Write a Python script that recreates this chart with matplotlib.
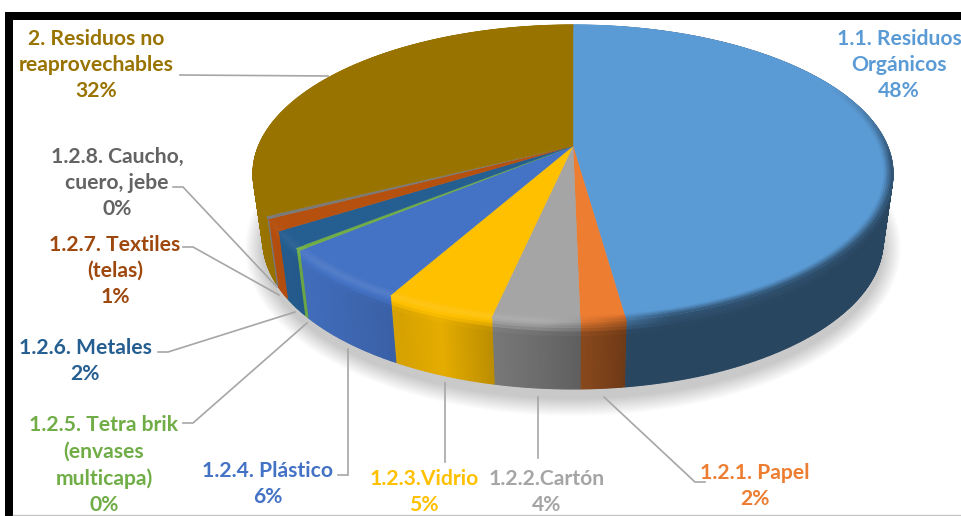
import numpy as np
import matplotlib
matplotlib.use("Agg")
import matplotlib.pyplot as plt
from matplotlib.collections import PolyCollection
from matplotlib.colors import to_rgb
from matplotlib.patches import Ellipse, Rectangle

plt.rcParams["font.family"] = ["Lato", "DejaVu Sans"]

# waste fractions, clockwise from twelve o'clock
categories = [
    "1.1. Residuos\nOrgánicos",
    "1.2.1. Papel",
    "1.2.2.Cartón",
    "1.2.3.Vidrio",
    "1.2.4. Plástico",
    "1.2.5. Tetra brik\n(envases\nmulticapa)",
    "1.2.6. Metales",
    "1.2.7. Textiles\n(telas)",
    "1.2.8. Caucho,\ncuero, jebe",
    "2. Residuos no\nreaprovechables",
]
values = [47.8, 1.9, 3.7, 4.7, 5.8, 0.3, 1.8, 1.3, 0.3, 32.4]
slice_colors = ["#5b9bd5", "#ed7d31", "#a5a5a5", "#ffc000", "#4472c4",
                "#70ad47", "#255e91", "#b5500f", "#7a7a7a", "#997300"]
label_colors = ["#5b9bd5", "#ed7d31", "#a5a5a5", "#ffc000", "#4472c4",
                "#70ad47", "#255e91", "#9e480e", "#636363", "#997300"]

# label centre (x, y of the block) in pixels
label_pos = [(899, 65), (755, 486), (547, 492), (424, 492), (268, 484),
             (104, 465), (85, 361), (115, 271), (117, 183), (96, 65)]

# leader lines in pixels
leaders = [
    None,
    [(705, 482), (695, 482), (604, 397)],
    [(538, 458), (538, 397)],
    [(445, 462), (445, 383)],
    [(338, 475), (348, 475), (348, 349)],
    [(183, 423), (193, 423), (307, 323)],
    [(158, 352), (168, 352), (295, 312)],
    [(183, 247), (193, 247), (279, 295)],
    [(173, 187), (183, 187), (277, 287)],
    [(180, 75), (328, 76)],
]

# tilted pie geometry
CX, CY = 573, 146
A, B, K = 314.5, 143.4, 0.185
BOTTOM_SCALE, DEPTH = 0.969, 67


def top_xy(theta, r=1.0):
    u, v = r * np.sin(theta), r * np.cos(theta)
    d = 1 + K * v
    return CX + A * u / d, CY - B * v / d


def bottom_xy(theta):
    x, y = top_xy(theta)
    return CX + (x - CX) * BOTTOM_SCALE, y + DEPTH


def shade(color, f):
    c = np.array(to_rgb(color))
    if f <= 1:
        return tuple(c * f)
    return tuple(c + (1 - c) * (f - 1))


def wall_factor(t):
    return np.interp(t, [-1.0, -0.85, -0.55, -0.42, -0.24, -0.12, 0.05, 0.18, 1.0],
                     [1.0, 0.95, 0.84, 0.9, 0.72, 0.66, 0.56, 0.45, 0.45])


def rim_factor(t):
    return np.interp(t, [-1.0, -0.8, -0.1, 0.1, 0.3, 1.0],
                     [1.0, 1.1, 1.1, 0.85, 0.55, 0.5])


def strength(theta):
    return np.interp(np.cos(theta), [-0.1, 0.45], [1, 0])


fig = plt.figure(figsize=(9.62, 5.16), dpi=100)
ax = fig.add_axes([0, 0, 1, 1])
ax.set_xlim(0, 962)
ax.set_ylim(516, 0)
ax.axis("off")

# frame pieces
ax.add_patch(Rectangle((5, 12), 957, 8, color="black", lw=0))
ax.add_patch(Rectangle((5, 12), 8, 504, color="black", lw=0))
ax.plot([13, 962], [515, 515], color="#c4c4c4", lw=1)

# soft shadow under the pie
for d in range(18, 0, -1):
    ax.add_patch(Ellipse((CX, CY + 102), 2 * (310 + d), 2 * (150 + d),
                         color="black", alpha=0.012, lw=0))

edges = np.radians(np.concatenate([[0], np.cumsum(values)]) * 3.6)

wall_polys, wall_cols = [], []
top_polys, top_cols = [], []
bevel_polys, bevel_cols = [], []
z_rows = [0, 0.03, 0.06, 0.1, 0.15, 0.22, 1]
r_rows = [0.972, 0.978, 0.984, 0.99, 0.995, 1.0]

for start, end, col in zip(edges[:-1], edges[1:], slice_colors):
    n = max(2, int(np.degrees(end - start) / 0.4))
    th = np.linspace(start, end, n)

    xs, ys = top_xy(th)
    top_polys.append(np.column_stack([np.r_[CX, xs], np.r_[CY, ys]]))
    top_cols.append(col)

    for a, b in zip(th[:-1], th[1:]):
        mid = (a + b) / 2
        t = top_xy(mid)[0] - CX
        t = t / 320
        wf, rf = wall_factor(t), rim_factor(t)
        s = strength(mid)
        xa, ya = top_xy(a)
        xb, yb = top_xy(b)
        xc, yc = bottom_xy(b)
        xd, yd = bottom_xy(a)
        for z0, z1 in zip(z_rows[:-1], z_rows[1:]):
            zm = min((z0 + z1) / 2 / 0.2, 1)
            f = rf + (wf - rf) * zm
            wall_polys.append([
                (xa + (xd - xa) * z0, ya + (yd - ya) * z0),
                (xb + (xc - xb) * z0, yb + (yc - yb) * z0),
                (xb + (xc - xb) * z1, yb + (yc - yb) * z1),
                (xa + (xd - xa) * z1, ya + (yd - ya) * z1),
            ])
            wall_cols.append(shade(col, f))
        # rounded edge on the top face
        for r0, r1 in zip(r_rows[:-1], r_rows[1:]):
            w = ((r0 + r1) / 2 - r_rows[0]) / (1 - r_rows[0])
            f = 1 + (rf - 1) * w * s
            bevel_polys.append([top_xy(a, r0), top_xy(b, r0), top_xy(b, r1), top_xy(a, r1)])
            bevel_cols.append(shade(col, f))

ax.add_collection(PolyCollection(wall_polys, facecolors=wall_cols, edgecolors=wall_cols, linewidths=0.8))
ax.add_collection(PolyCollection(top_polys, facecolors=top_cols, edgecolors=top_cols, linewidths=0.3))
ax.add_collection(PolyCollection(bevel_polys, facecolors=bevel_cols, edgecolors=bevel_cols, linewidths=0.5))

# leaders and labels
for pts in leaders:
    if pts is None:
        continue
    ax.plot(*zip(*pts), color="#a6a6a6", lw=1.2, solid_joinstyle="miter")

for cat, val, col, (x, y) in zip(categories, values, label_colors, label_pos):
    ax.text(x, y, f"{cat}\n{val:.0f}%", color=col, ha="center", va="center",
            fontsize=15.2, fontweight="bold", linespacing=1.4)

fig.savefig("out.png", dpi=100)
